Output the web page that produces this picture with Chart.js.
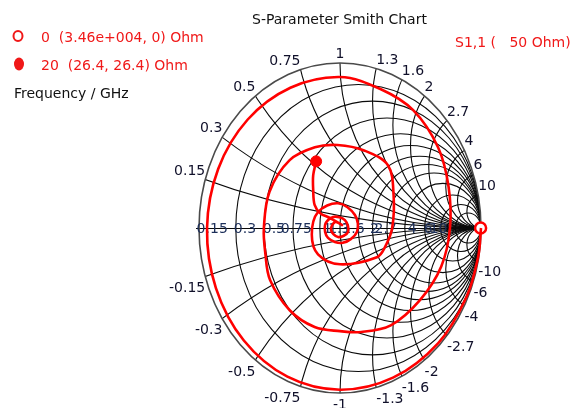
<!DOCTYPE html>
<html>
<head>
<meta charset="utf-8">
<script src="https://cdn.jsdelivr.net/npm/chart.js@4.4.1/dist/chart.umd.min.js"></script>
<style>
    html, body { margin: 0; padding: 0; background: #fff; }
    #wrap {
        position: relative;
        width: 576px;
        height: 408px;
        overflow: hidden;
        font-family: "DejaVu Sans", sans-serif;
        font-size: 14px;
    }
    #wrap canvas { position: absolute; left: 0; top: 0; }
    .txt { position: absolute; white-space: pre; line-height: 1; transform: translateY(-50%); }
    .red { color: #f01818; }
    .dot { position: absolute; width: 7px; height: 8px; border-radius: 50%; transform: translate(-50%, -50%); }
</style>
</head>
<body>
<div id="wrap">
    <canvas id="smith" width="576" height="408"></canvas>
    <div class="txt" style="left:252px; top:19px; color:#111;">S-Parameter Smith Chart</div>
    <div class="dot" style="left:18px; top:36px; border:2.5px solid #f01818; background:#fff;"></div>
    <div class="txt red" style="left:41px; top:37px;">0  (3.46e+004, 0) Ohm</div>
    <div class="dot" style="left:19px; top:64px; width:10px; height:13px; background:#f01818;"></div>
    <div class="txt red" style="left:41px; top:65px;">20  (26.4, 26.4) Ohm</div>
    <div class="txt" style="left:14px; top:93px; color:#111;">Frequency / GHz</div>
    <div class="txt red" style="left:455px; top:42px;">S1,1 (   50 Ohm)</div>
</div>
<script>
// grid values (normalised to 50 Ohm)
const resistanceValues = [0.15, 0.3, 0.5, 0.75, 1, 1.3, 1.6, 2, 2.7, 4, 6, 10];
const reactanceValues = [0.15, 0.3, 0.5, 0.75, 1, 1.3, 1.6, 2, 2.7, 4, 6, 10];
const z0 = 50;

// marker impedances: 0 GHz and 20 GHz
const markerFreq = [0, 20];
const markerR = [34600, 26.4];
const markerX = [0, 26.4];

// S1,1 trace, reflection coefficient
const traceRe = [1.000, 0.980, 0.897, 0.697, 0.376, 0.000, -0.373, -0.682, -0.880, -0.943,
    -0.864, -0.656, -0.352, 0.000, 0.290, 0.519, 0.696, 0.770, 0.780, 0.718,
    0.567, 0.360, 0.150, 0.000, -0.180, -0.355, -0.496, -0.530, -0.540, -0.500,
    -0.357, -0.178, -0.018, 0.171, 0.340, 0.380, 0.370, 0.319, 0.262, 0.000,
    -0.156, -0.200, -0.156, -0.014, 0.106, 0.120, 0.020, -0.085, -0.106, -0.050,
    0.035, 0.057, -0.014, -0.064, -0.035, 0.014, -0.070, -0.140, -0.180, -0.190,
    -0.190, -0.169];
const traceIm = [0.000, -0.173, -0.418, -0.697, -0.907, -0.980, -0.901, -0.682, -0.364, 0.000,
    0.358, 0.656, 0.850, 0.915, 0.841, 0.714, 0.488, 0.250, 0.000, -0.233,
    -0.437, -0.590, -0.630, -0.625, -0.600, -0.500, -0.315, -0.150, 0.000, 0.220,
    0.411, 0.489, 0.503, 0.470, 0.380, 0.200, 0.000, -0.116, -0.177, -0.220,
    -0.160, -0.040, 0.097, 0.150, 0.079, -0.024, -0.090, -0.060, 0.018, 0.067,
    0.048, -0.024, -0.055, -0.012, 0.036, 0.018, 0.060, 0.090, 0.140, 0.230,
    0.320, 0.404];

const RED = '#ff0000';
const GRID = '#0a0a0a';
const LABEL = '#10102a';

// impedance -> reflection coefficient
function gamma(r, x) {
    const zr = r / z0, zx = x / z0;
    const d = (zr + 1) * (zr + 1) + zx * zx;
    return { x: (zr * zr + zx * zx - 1) / d, y: (2 * zx) / d };
}

const tracePoints = traceRe.map((re, i) => ({ x: re, y: traceIm[i] }));
const markerPoints = markerFreq.map((f, i) => gamma(markerR[i], markerX[i]));

// draws the Smith grid and its labels from the chart's own scales
const smithGrid = {
    id: 'smithGrid',
    beforeDatasetsDraw(chart) {
        const { ctx, scales: { x, y } } = chart;
        const px = v => x.getPixelForValue(v);
        const py = v => y.getPixelForValue(v);
        const cx = px(0), cy = py(0);
        const sx = px(1) - cx, sy = cy - py(1);

        ctx.save();
        ctx.beginPath();
        ctx.ellipse(cx, cy, sx, sy, 0, 0, 2 * Math.PI);
        ctx.clip();
        ctx.strokeStyle = GRID;
        ctx.lineWidth = 1.1;

        resistanceValues.forEach(r => {
            const rad = 1 / (1 + r);
            ctx.beginPath();
            ctx.ellipse(px(r / (1 + r)), cy, rad * sx, rad * sy, 0, 0, 2 * Math.PI);
            ctx.stroke();
        });
        reactanceValues.forEach(v => {
            [v, -v].forEach(xv => {
                const rad = 1 / Math.abs(xv);
                ctx.beginPath();
                ctx.ellipse(px(1), py(1 / xv), rad * sx, rad * sy, 0, 0, 2 * Math.PI);
                ctx.stroke();
            });
        });
        ctx.restore();

        // real axis
        ctx.save();
        ctx.strokeStyle = GRID;
        ctx.lineWidth = 1;
        ctx.beginPath();
        ctx.moveTo(px(-1) - 3, cy + 0.5);
        ctx.lineTo(px(1), cy + 0.5);
        ctx.stroke();

        // outer circle
        ctx.strokeStyle = '#4a4a4a';
        ctx.lineWidth = 1.6;
        ctx.beginPath();
        ctx.ellipse(cx, cy, sx, sy, 0, 0, 2 * Math.PI);
        ctx.stroke();

        ctx.font = '14px "DejaVu Sans", sans-serif';
        ctx.fillStyle = LABEL;

        // reactance labels round the rim
        reactanceValues.forEach(v => {
            [v, -v].forEach(xv => {
                const g = gamma(0, xv * z0);
                const ex = px(g.x), ey = py(g.y);
                ctx.textAlign = Math.abs(g.x) < 0.01 ? 'center' : (g.x > 0 ? 'left' : 'right');
                ctx.textBaseline = xv > 0 ? 'alphabetic' : 'top';
                ctx.fillText(String(xv), ex, xv > 0 ? ey - 5 : ey + 5);
            });
        });

        // resistance labels on the real axis
        ctx.fillStyle = '#1c2f5a';
        ctx.textAlign = 'right';
        ctx.textBaseline = 'middle';
        resistanceValues.forEach(r => {
            ctx.fillText(String(r), px((r - 1) / (r + 1)) - 8, cy + 1);
        });
        ctx.restore();
    }
};

new Chart(document.getElementById('smith'), {
    type: 'scatter',
    data: {
        datasets: [
            {
                data: tracePoints,
                showLine: true,
                borderColor: RED,
                borderWidth: 2.6,
                pointRadius: 0,
                tension: 0.35,
                clip: false
            },
            {
                data: [markerPoints[0]],
                pointStyle: 'circle',
                pointRadius: 5.5,
                borderWidth: 2.5,
                borderColor: RED,
                backgroundColor: '#fff',
                clip: false
            },
            {
                data: [markerPoints[1]],
                pointStyle: 'circle',
                pointRadius: 5.5,
                borderWidth: 1,
                borderColor: RED,
                backgroundColor: RED,
                clip: false
            }
        ]
    },
    options: {
        responsive: false,
        animation: false,
        layout: { padding: { left: 199, right: 95, top: 63, bottom: 15 } },
        scales: {
            x: { type: 'linear', min: -1, max: 1, display: false },
            y: { type: 'linear', min: -1, max: 1, display: false }
        },
        plugins: {
            legend: { display: false },
            tooltip: { enabled: false },
            title: { display: false }
        }
    },
    plugins: [smithGrid]
});
</script>
</body>
</html>
